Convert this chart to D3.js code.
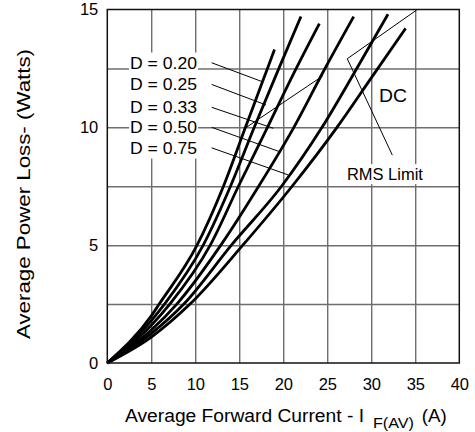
<!DOCTYPE html>
<html>
<head>
<meta charset="utf-8">
<script src="https://cdn.jsdelivr.net/npm/d3@7"></script>
<style>
  body { margin: 0; background: #fff; }
  svg { display: block; font-family: "Liberation Sans", Arial, sans-serif; }
</style>
</head>
<body>
<div id="chart"></div>
<script>
// Axis ticks
const xTicks = [0, 5, 10, 15, 20, 25, 30, 35, 40];
const yTicks = [0, 5, 10, 15];
const yGridTicks = [2.5, 5, 7.5, 10, 12.5];

// Power loss curves, [current A, loss W]
const curveD20 = [[0, 0], [5, 2.0], [5.9, 2.5], [10.2, 5], [13.2, 7.5], [15.7, 10], [17.6, 11.9], [19.0, 13.3]];
const curveD25 = [[0, 0], [5, 1.8], [6.5, 2.5], [10.9, 5], [14.0, 7.5], [16.7, 10], [19.5, 12.5], [22.0, 14.7]];
const curveD33 = [[0, 0], [5, 1.6], [7.1, 2.5], [11.7, 5], [14.9, 7.5], [18.2, 10], [21.2, 12.3], [24.1, 14.4]];
const curveD50 = [[0, 0], [5, 1.4], [7.9, 2.5], [12.9, 5], [17.2, 7.5], [21.2, 10], [24.6, 12.4], [28.0, 14.7]];
const curveD75 = [[0, 0], [5, 1.25], [8.7, 2.5], [14.1, 5], [19.8, 7.5], [24.4, 10], [28.2, 12.4], [31.9, 14.8]];
const curveDC  = [[0, 0], [5, 1.1], [9.4, 2.5], [15.4, 5], [21.0, 7.5], [26.1, 10], [30.0, 12.1], [33.9, 14.2]];
const curves = [curveD20, curveD25, curveD33, curveD50, curveD75, curveDC];

// Duty cycle labels and their leader lines (data space)
const dutyLabels = ['D = 0.20', 'D = 0.25', 'D = 0.33', 'D = 0.50', 'D = 0.75'];
const dutyLeaders = [
  [[11.86, 12.74], [17.66, 11.93]],
  [[11.86, 11.82], [18.03, 10.95]],
  [[11.86, 10.85], [18.86, 9.96]],
  [[11.86, 10.0], [19.63, 8.96]],
  [[11.86, 9.13], [20.57, 7.98]]
];
const dutyLabelX = 10.19;

// RMS limit line, its pointer, and the DC label
const rmsLines = [
  [[15.65, 9.96], [24.48, 12.18]],
  [[27.27, 12.91], [35.16, 14.98]],
  [[27.27, 12.91], [32.39, 8.82]]
];
const rmsLabel = { text: 'RMS Limit', x: 27.23, y: 7.76 };
const dcLabel = { text: 'DC', x: 30.87, y: 11.07 };

const width = 475, height = 432;
const margin = { top: 9.5, right: 15.7, bottom: 69, left: 107.3 };
const plotW = width - margin.left - margin.right;
const plotH = height - margin.top - margin.bottom;
const FONT = '"Liberation Sans", Arial, sans-serif';

const svg = d3.select('#chart').append('svg')
  .attr('width', width)
  .attr('height', height);

const x = d3.scaleLinear().domain([0, 40]).range([margin.left, width - margin.right]);
const y = d3.scaleLinear().domain([0, 15]).range([height - margin.bottom, margin.top]);

// Gridlines
const xGrid = svg.append('g')
  .attr('transform', `translate(0,${height - margin.bottom})`)
  .call(d3.axisBottom(x).tickValues(xTicks.slice(1, -1)).tickSize(-plotH).tickFormat(''));
xGrid.select('.domain').remove();
xGrid.selectAll('line').attr('stroke', '#333').attr('stroke-width', 1);

const yGrid = svg.append('g')
  .attr('transform', `translate(${margin.left},0)`)
  .call(d3.axisLeft(y).tickValues(yGridTicks).tickSize(-plotW).tickFormat(''));
yGrid.select('.domain').remove();
yGrid.selectAll('line').attr('stroke', '#6e6e6e').attr('stroke-width', 1.5);

// Tick labels
const xAxis = svg.append('g')
  .attr('transform', `translate(0,${height - margin.bottom})`)
  .call(d3.axisBottom(x).tickValues(xTicks).tickSize(0).tickPadding(15));
xAxis.select('.domain').remove();
xAxis.selectAll('text').attr('font-size', 16.5).attr('fill', '#000').style('font-family', FONT);

const yAxis = svg.append('g')
  .attr('transform', `translate(${margin.left},0)`)
  .call(d3.axisLeft(y).tickValues(yTicks).tickSize(0).tickPadding(9));
yAxis.select('.domain').remove();
yAxis.selectAll('text').attr('font-size', 16.5).attr('fill', '#000').style('font-family', FONT);

// Duty labels with white backing
const labelBg = svg.append('rect').attr('fill', '#fff');
const labels = svg.append('g')
  .attr('font-size', 16)
  .attr('text-anchor', 'end');
labels.selectAll('text')
  .data(dutyLabels)
  .join('text')
  .attr('x', x(dutyLabelX))
  .attr('y', (d, i) => y(dutyLeaders[i][0][1]))
  .attr('dy', '0.36em')
  .attr('textLength', 67)
  .attr('lengthAdjust', 'spacingAndGlyphs')
  .text(d => d);
const lb = labels.node().getBBox();
labelBg.attr('x', lb.x - 1).attr('y', lb.y - 2)
  .attr('width', lb.width + 2).attr('height', lb.height + 4);

// RMS label with white backing
const rmsBg = svg.append('rect').attr('fill', '#fff');
const rmsText = svg.append('text')
  .attr('x', x(rmsLabel.x))
  .attr('y', y(rmsLabel.y))
  .attr('font-size', 17)
  .attr('textLength', 76)
  .attr('lengthAdjust', 'spacingAndGlyphs')
  .text(rmsLabel.text);
const rb = rmsText.node().getBBox();
rmsBg.attr('x', rb.x - 2).attr('y', rb.y - 1).attr('width', rb.width + 4).attr('height', rb.height + 1);

svg.append('text')
  .attr('x', x(dcLabel.x))
  .attr('y', y(dcLabel.y))
  .attr('font-size', 17.5)
  .attr('textLength', 28)
  .attr('lengthAdjust', 'spacingAndGlyphs')
  .text(dcLabel.text);

// Thin annotation lines
const seg = d3.line().x(d => x(d[0])).y(d => y(d[1]));
svg.append('g')
  .selectAll('path')
  .data(dutyLeaders.concat(rmsLines))
  .join('path')
  .attr('d', seg)
  .attr('fill', 'none')
  .attr('stroke', '#000')
  .attr('stroke-width', 1);

// Curves
const line = d3.line()
  .x(d => x(d[0]))
  .y(d => y(d[1]))
  .curve(d3.curveMonotoneX);
svg.append('g')
  .selectAll('path')
  .data(curves)
  .join('path')
  .attr('d', line)
  .attr('fill', 'none')
  .attr('stroke', '#000')
  .attr('stroke-width', 2.8);

// Frame
svg.append('rect')
  .attr('x', margin.left)
  .attr('y', margin.top)
  .attr('width', plotW)
  .attr('height', plotH)
  .attr('fill', 'none')
  .attr('stroke', '#111')
  .attr('stroke-width', 1.5);

// Axis titles
const xTitle = svg.append('text').attr('y', 421.5).attr('font-size', 17.5);
xTitle.append('tspan').attr('x', 125)
  .attr('textLength', 239).attr('lengthAdjust', 'spacingAndGlyphs')
  .text('Average Forward Current - I');
xTitle.append('tspan').attr('x', 373).attr('y', 428).attr('font-size', 15.5)
  .attr('textLength', 41).attr('lengthAdjust', 'spacingAndGlyphs')
  .text('F(AV)');
xTitle.append('tspan').attr('x', 421.7).attr('y', 421.5)
  .attr('textLength', 25).attr('lengthAdjust', 'spacingAndGlyphs')
  .text('(A)');

svg.append('text')
  .attr('transform', 'translate(30,194) rotate(-90)')
  .attr('text-anchor', 'middle')
  .attr('font-size', 17.5)
  .attr('textLength', 290)
  .attr('lengthAdjust', 'spacingAndGlyphs')
  .text('Average Power Loss- (Watts)');
</script>
</body>
</html>
